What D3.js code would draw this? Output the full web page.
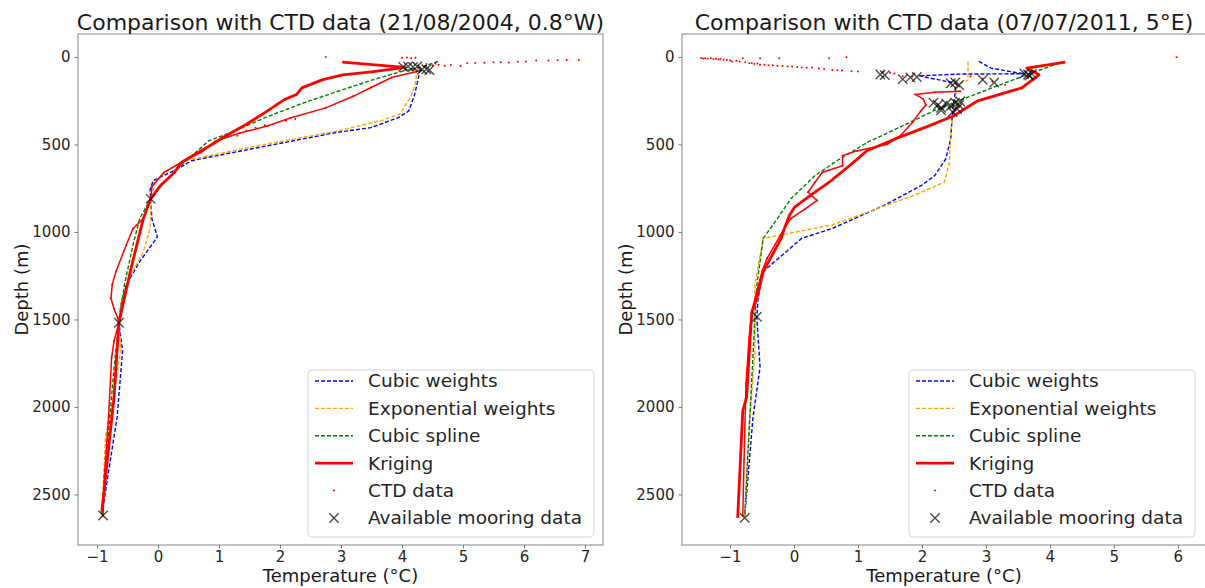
<!DOCTYPE html>
<html lang="en">
<head>
	<meta charset="utf-8">
	<title>Comparison with CTD data</title>
	<script src="https://cdn.jsdelivr.net/npm/d3@7"></script>
	<style type="text/css">
		body {
			margin: 0;
			background: #fff;
		}
		svg {
			display: block;
			font-family: "DejaVu Sans", sans-serif;
		}
	</style>
</head>
<body>
	<script type="text/javascript">
		//Width and height
		var w = 1205;
		var h = 588;

		//Tick labels
		var depthTicks = [0, 500, 1000, 1500, 2000, 2500];
		var tempTicksLeft = [-1, 0, 1, 2, 3, 4, 5, 6, 7];
		var tempTicksRight = [-1, 0, 1, 2, 3, 4, 5, 6];

		var legendLabels = ["Cubic weights", "Exponential weights", "Cubic spline", "Kriging", "CTD data", "Available mooring data"];

		//----- 21/08/2004, 0.8°W  (values are [temperature °C, depth m])
		var cubicW2004 = [[4.30,70],[4.25,150],[4.20,224],[4.11,309],[3.94,347],[3.49,404],[2.92,432],[2.07,489],[1.23,546],[0.55,593],[0.32,640],[-0.08,707],[-0.13,760],[-0.12,811],[-0.10,924],[-0.01,1028],[-0.30,1170],[-0.52,1302],[-0.61,1415],[-0.64,1519],[-0.58,1680],[-0.67,2058],[-0.92,2615]];
		var expW2004 = [[4.25,70],[4.22,150],[4.15,224],[3.96,328],[3.70,360],[2.92,425],[1.79,497],[0.43,593],[0.10,660],[-0.05,716],[-0.11,811],[-0.13,980],[-0.24,1113],[-0.47,1264],[-0.61,1415],[-0.64,1519],[-0.61,1680],[-0.75,1982],[-0.86,2171],[-0.92,2615]];
		var spline2004 = [[4.59,26],[4.30,60],[4.05,77],[3.49,134],[2.92,200],[2.36,266],[1.79,342],[1.23,427],[0.83,480],[0.38,620],[0.10,716],[-0.12,811],[-0.30,924],[-0.41,1075],[-0.55,1302],[-0.64,1519],[-0.72,1775],[-0.80,2100],[-0.92,2615]];
		var krig2004 = [[3.02,30],[4.05,60],[3.50,86],[3.03,102],[2.70,130],[2.36,177],[2.27,215],[2.07,244],[1.79,310],[1.45,385],[1.11,452],[0.89,499],[0.66,546],[0.38,603],[0.27,660],[0.04,735],[-0.12,811],[-0.24,924],[-0.45,1220],[-0.64,1519],[-0.72,1944],[-0.92,2600]];
		var ctdProfile2004 = [[4.28,80],[3.83,118],[3.49,175],[3.20,225],[2.75,291],[2.18,348],[1.79,395],[1.34,435],[0.94,482],[0.71,546],[0.43,593],[0.10,660],[-0.10,740],[-0.12,811],[-0.24,924],[-0.41,981],[-0.52,1075],[-0.69,1227],[-0.75,1300],[-0.77,1380],[-0.72,1440],[-0.66,1490],[-0.64,1519],[-0.72,1623],[-0.76,1718],[-0.81,2058],[-0.88,2400],[-0.90,2620]];
		var ctdScatter2004 = [[2.75,0],[4.00,5],[4.08,3],[4.15,7],[4.22,4],[4.50,48],[4.60,45],[4.70,50],[4.80,46],[4.96,52],[5.07,36],[5.20,34],[5.35,33],[5.50,31],[5.62,30],[5.75,32],[5.90,28],[6.03,26],[6.20,21],[6.40,20],[6.55,19],[6.70,18],[6.90,18],[4.40,40],[4.55,38],[1.75,390],[1.60,405],[1.45,420],[1.30,450],[2.25,355],[2.10,365]];
		var mooring2004 = [[4.02,57],[4.10,55],[4.18,58],[4.25,55],[4.33,72],[4.40,70],[4.45,75],[-0.12,811],[-0.64,1519],[-0.90,2620]];

		//----- 07/07/2011, 5°E
		var cubicW2011 = [[2.89,26],[3.08,64],[3.51,92],[3.62,96],[2.60,98],[1.95,108],[2.54,151],[2.48,302],[2.45,470],[2.37,584],[2.20,678],[1.99,735],[1.41,848],[0.60,980],[0.12,1037],[-0.48,1226],[-0.56,1377],[-0.58,1491],[-0.53,1774],[-0.64,2058],[-0.77,2625]];
		var expW2011 = [[2.72,26],[2.72,132],[2.55,160],[2.50,321],[2.45,416],[2.43,603],[2.35,716],[1.88,790],[0.60,960],[-0.48,1037],[-0.61,1302],[-0.61,1680],[-0.69,2058],[-0.77,2625]];
		var spline2011 = [[4.15,35],[3.70,94],[3.28,151],[2.74,227],[2.22,302],[1.68,397],[1.14,490],[0.71,584],[0.33,678],[-0.05,811],[-0.26,924],[-0.48,1037],[-0.58,1302],[-0.61,1491],[-0.69,2058],[-0.77,2625]];
		var krig2011 = [[4.24,30],[3.64,64],[3.83,102],[3.56,177],[3.03,234],[2.86,253],[2.49,338],[2.11,394],[1.57,470],[1.14,536],[0.87,621],[0.55,716],[0.22,801],[0.01,858],[-0.07,905],[-0.15,980],[-0.20,1037],[-0.48,1226],[-0.58,1377],[-0.66,1462],[-0.74,1944],[-0.80,2021],[-0.88,2634]];
		var ctdProfile2011 = [[2.60,196],[2.20,202],[1.90,215],[2.02,240],[2.06,275],[1.98,310],[1.86,370],[1.68,445],[1.46,499],[0.98,537],[0.76,565],[0.76,622],[0.44,660],[0.33,716],[0.22,773],[0.36,820],[0.17,870],[-0.05,924],[-0.15,980],[-0.42,1151],[-0.50,1226],[-0.66,1453],[-0.70,1600],[-0.75,1868],[-0.78,2300],[-0.80,2620]];
		var ctdScatter2011 = [[-1.45,6],[-1.42,9],[-1.39,8],[-1.35,11],[-1.30,7],[-1.26,12],[-1.22,10],[-1.18,14],[-1.15,12],[-1.10,16],[-1.05,18],[-1.00,21],[-0.97,26],[-0.90,22],[-0.85,28],[-0.80,8],[-0.76,31],[-0.70,36],[-0.66,34],[-0.62,40],[-0.57,38],[-0.53,45],[-0.53,8],[-0.46,44],[-0.40,48],[-0.33,47],[-0.26,51],[-0.23,8],[-0.18,52],[-0.10,55],[-0.03,54],[0.05,58],[0.12,60],[0.20,62],[0.28,61],[0.39,66],[0.47,69],[0.55,8],[0.60,74],[0.68,76],[0.75,78],[0.82,2],[0.90,82],[1.00,83],[1.40,84],[1.50,90],[1.57,94],[1.70,110],[1.85,112],[2.00,108],[2.76,112],[2.95,125],[3.10,140],[3.30,160],[5.98,2]];
		var mooring2011 = [[1.35,100],[1.42,104],[1.70,127],[1.82,117],[1.92,115],[2.45,150],[2.52,146],[2.58,160],[2.95,130],[3.13,146],[3.60,95],[3.66,100],[3.72,97],[3.68,106],[2.18,262],[2.25,275],[2.30,290],[2.38,268],[2.45,280],[2.52,262],[2.55,298],[2.58,275],[2.48,315],[2.30,305],[2.60,255],[-0.58,1485],[-0.77,2634]];

		//Series colours
		var colBlue = "#0000ff";
		var colOrange = "#ffa500";
		var colGreen = "#008000";
		var colRed = "#ff0000";

		//Create SVG element
		var svg = d3.select("body")
			.append("svg")
			.attr("width", w)
			.attr("height", h);

		svg.append("rect")
			.attr("width", w)
			.attr("height", h)
			.attr("fill", "#fff");

		function drawPanel(p) {
			var x = d3.scaleLinear().domain(p.xDomain).range([p.left, p.right]);
			var y = d3.scaleLinear().domain([-131, 2789]).range([34, 545]);

			var line = d3.line()
				.x(function(d) { return x(d[0]); })
				.y(function(d) { return y(d[1]); });

			var g = svg.append("g");

			//Clip to the axes area
			g.append("clipPath")
				.attr("id", p.id + "-clip")
				.append("rect")
				.attr("x", p.left)
				.attr("y", 34)
				.attr("width", p.right - p.left)
				.attr("height", 511);

			var plot = g.append("g").attr("clip-path", "url(#" + p.id + "-clip)");

			//Dashed interpolations
			[[p.cubic, colBlue], [p.expo, colOrange], [p.spline, colGreen]].forEach(function(s) {
				plot.append("path")
					.datum(s[0])
					.attr("d", line)
					.attr("fill", "none")
					.attr("stroke", s[1])
					.attr("stroke-width", 1.4)
					.attr("stroke-dasharray", "4,2");
			});

			//Kriging
			plot.append("path")
				.datum(p.krig)
				.attr("d", line)
				.attr("fill", "none")
				.attr("stroke", colRed)
				.attr("stroke-width", 2.8)
				.attr("stroke-linejoin", "round");

			//CTD data (dense profile + scattered points)
			plot.append("path")
				.datum(p.ctdProfile)
				.attr("d", line)
				.attr("fill", "none")
				.attr("stroke", colRed)
				.attr("stroke-width", 1.5);

			plot.selectAll("circle.ctd")
				.data(p.ctdProfile.concat(p.ctdScatter))
				.enter()
				.append("circle")
				.attr("class", "ctd")
				.attr("cx", function(d) { return x(d[0]); })
				.attr("cy", function(d) { return y(d[1]); })
				.attr("r", 1)
				.attr("fill", colRed);

			//Mooring crosses
			var cross = d3.symbol().type(d3.symbolTimes).size(60);
			plot.selectAll("path.moor")
				.data(p.mooring)
				.enter()
				.append("path")
				.attr("class", "moor")
				.attr("d", cross)
				.attr("transform", function(d) { return "translate(" + x(d[0]) + "," + y(d[1]) + ")"; })
				.attr("fill", "none")
				.attr("stroke", "#000")
				.attr("stroke-opacity", 0.7)
				.attr("stroke-width", 1.4);

			//Frame
			g.append("rect")
				.attr("x", p.left)
				.attr("y", 34)
				.attr("width", p.right - p.left)
				.attr("height", 511)
				.attr("fill", "none")
				.attr("stroke", "#9a9a9a")
				.attr("stroke-width", 1.2);

			//Axes
			var xAxis = d3.axisBottom(x)
				.tickValues(p.xTicks)
				.tickSize(3.5)
				.tickPadding(3)
				.tickFormat(d3.format("d"));
			var gx = g.append("g")
				.attr("transform", "translate(0,545)")
				.call(xAxis);

			var yAxis = d3.axisLeft(y)
				.tickValues(depthTicks)
				.tickSize(3.5)
				.tickPadding(4)
				.tickFormat(d3.format("d"));
			var gy = g.append("g")
				.attr("transform", "translate(" + p.left + ",0)")
				.call(yAxis);

			[gx, gy].forEach(function(a) {
				a.select(".domain").remove();
				a.selectAll("line").attr("stroke", "#777");
				a.selectAll("text")
					.attr("fill", "#262626")
					.style("font-size", "15px")
					.style("font-family", "'DejaVu Sans', sans-serif");
			});

			//Titles and labels
			g.append("text")
				.attr("x", (p.left + p.right) / 2)
				.attr("y", 30)
				.attr("text-anchor", "middle")
				.attr("fill", "#1a1a1a")
				.style("font-size", "22px")
				.text(p.title);

			g.append("text")
				.attr("x", (p.left + p.right) / 2)
				.attr("y", 582)
				.attr("text-anchor", "middle")
				.attr("fill", "#1a1a1a")
				.style("font-size", "18px")
				.text("Temperature (°C)");

			g.append("text")
				.attr("transform", "translate(" + (p.left - 50) + "," + 289.5 + ") rotate(-90)")
				.attr("text-anchor", "middle")
				.attr("fill", "#1a1a1a")
				.style("font-size", "18px")
				.text("Depth (m)");

			//Legend
			var lg = g.append("g").attr("transform", "translate(" + p.legendX + ",370)");
			lg.append("rect")
				.attr("width", 286)
				.attr("height", 167)
				.attr("rx", 4)
				.attr("fill", "#fff")
				.attr("fill-opacity", 0.8)
				.attr("stroke", "#d6d6d6");

			legendLabels.forEach(function(lab, i) {
				var cy = 11 + i * 27.4;
				if (i < 3) {
					lg.append("line")
						.attr("x1", 7).attr("x2", 45)
						.attr("y1", cy).attr("y2", cy)
						.attr("stroke", [colBlue, colOrange, colGreen][i])
						.attr("stroke-width", 1.4)
						.attr("stroke-dasharray", "4,2");
				} else if (i === 3) {
					lg.append("line")
						.attr("x1", 7).attr("x2", 45)
						.attr("y1", cy).attr("y2", cy)
						.attr("stroke", colRed)
						.attr("stroke-width", 2.8);
				} else if (i === 4) {
					lg.append("circle")
						.attr("cx", 26).attr("cy", cy)
						.attr("r", 1)
						.attr("fill", colRed);
				} else {
					lg.append("path")
						.attr("d", d3.symbol().type(d3.symbolTimes).size(60))
						.attr("transform", "translate(26," + cy + ")")
						.attr("fill", "none")
						.attr("stroke", "#000")
						.attr("stroke-opacity", 0.7)
						.attr("stroke-width", 1.4);
				}
				lg.append("text")
					.attr("x", 60)
					.attr("y", cy)
					.attr("dy", "0.35em")
					.attr("fill", "#262626")
					.style("font-size", "18.5px")
					.text(lab);
			});
		}

		drawPanel({
			id: "left",
			left: 78,
			right: 603,
			xDomain: [-1.311, 7.295],
			xTicks: tempTicksLeft,
			title: "Comparison with CTD data (21/08/2004, 0.8°W)",
			cubic: cubicW2004,
			expo: expW2004,
			spline: spline2004,
			krig: krig2004,
			ctdProfile: ctdProfile2004,
			ctdScatter: ctdScatter2004,
			mooring: mooring2004,
			legendX: 308
		});

		drawPanel({
			id: "right",
			left: 682,
			right: 1206,
			xDomain: [-1.75, 6.44],
			xTicks: tempTicksRight,
			title: "Comparison with CTD data (07/07/2011, 5°E)",
			cubic: cubicW2011,
			expo: expW2011,
			spline: spline2011,
			krig: krig2011,
			ctdProfile: ctdProfile2011,
			ctdScatter: ctdScatter2011,
			mooring: mooring2011,
			legendX: 909
		});

	</script>
</body>
</html>
